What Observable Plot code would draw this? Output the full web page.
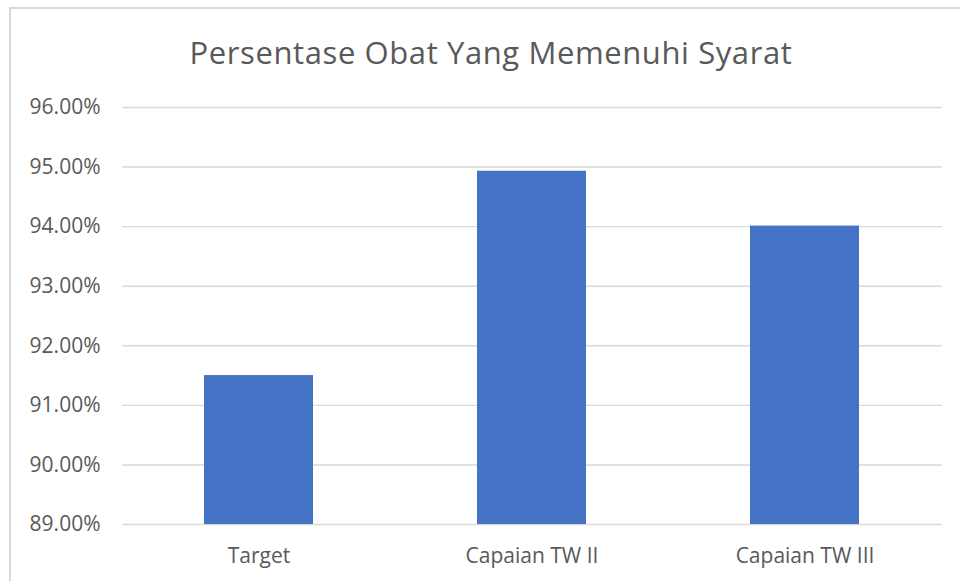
<!DOCTYPE html>
<html>
<head>
<meta charset="utf-8">
<script src="https://cdn.jsdelivr.net/npm/d3@7"></script>
<script src="https://cdn.jsdelivr.net/npm/@observablehq/plot@0.6"></script>
<style>
  html, body { margin: 0; padding: 0; background: #fff; }
  #wrap { position: relative; width: 960px; height: 581px; overflow: hidden; background: #fff; }
  #frame { position: absolute; left: 9px; top: 7px; width: 1000px; height: 1000px;
           border-left: 2px solid #d9d9d9; border-top: 2px solid #d9d9d9; box-sizing: border-box; }
  #title { position: absolute; left: 491px; top: 37px; transform: translateX(-50%);
           font-family: "Open Sans", sans-serif; font-size: 31px; line-height: 31px;
           color: #595959; white-space: nowrap; letter-spacing: 0.6px; }
  #chart { position: absolute; left: 0; top: 0; }
</style>
</head>
<body>
<div id="wrap">
  <div id="frame"></div>
  <div id="title">Persentase Obat Yang Memenuhi Syarat</div>
  <div id="chart"></div>
</div>
<script>
const categories = ["Target", "Capaian TW II", "Capaian TW III"];
const values = [91.50, 94.93, 94.01];
const yTicks = [89, 90, 91, 92, 93, 94, 95, 96];
const yMin = 89, yMax = 96;

const data = categories.map((c, i) => ({ category: c, value: values[i] }));

const chart = Plot.plot({
  width: 960,
  height: 581,
  marginLeft: 122,
  marginRight: 18,
  marginTop: 107,
  marginBottom: 57,
  style: { fontFamily: "'Open Sans', sans-serif", color: "#595959", background: "transparent" },
  x: { domain: categories, paddingInner: 0.6, paddingOuter: 0.3, label: null },
  y: { domain: [yMin, yMax], ticks: yTicks, label: null },
  marks: [
    Plot.ruleY(yTicks, { stroke: "#d9d9d9", strokeWidth: 1.4 }),
    Plot.barY(data, { x: "category", y1: () => yMin, y2: "value", fill: "#4472C4" }),
    Plot.axisY({ ticks: yTicks, tickSize: 0, tickPadding: 22, fontSize: 21, fill: "#595959",
                 tickFormat: d => d.toFixed(2) + "%", label: null }),
    Plot.axisX({ tickSize: 0, tickPadding: 24, fontSize: 21, fill: "#595959", label: null })
  ]
});
document.getElementById("chart").appendChild(chart);
</script>
</body>
</html>
